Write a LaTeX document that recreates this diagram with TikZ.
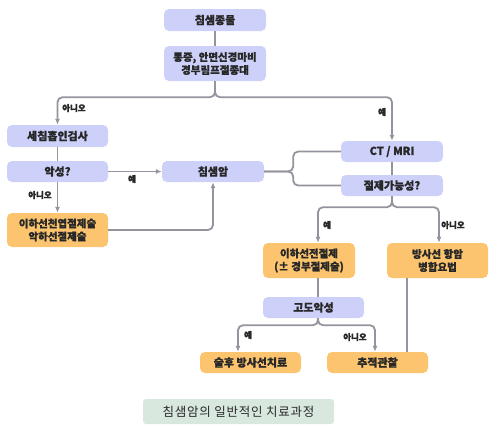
\documentclass[tikz,border=0pt]{standalone}
\usepackage{fontspec}
\setmainfont{Noto Sans CJK KR}[BoldFeatures={FakeBold=0.8}]
\usetikzlibrary{arrows.meta}
\definecolor{bluebox}{RGB}{205,208,248}
\definecolor{orangebox}{RGB}{252,196,110}
\definecolor{capbox}{RGB}{216,232,222}
\definecolor{lineg}{RGB}{148,148,158}
\definecolor{txt}{RGB}{40,40,40}
\tikzset{
  box/.style={rounded corners=5pt, inner sep=0pt, align=center, text=txt,
    font=\fontsize{11}{13}\selectfont\bfseries},
  two/.style={font=\fontsize{10.5}{13}\selectfont\bfseries},
  bbox/.style={box, fill=bluebox},
  obox/.style={box, fill=orangebox},
  ln/.style={draw=lineg, line width=1.8pt, rounded corners=5pt},
  arr/.style={ln, -{Latex[length=6pt,width=5pt]}},
  lab/.style={text=txt, font=\fontsize{8.5}{10}\selectfont\bfseries, inner sep=0pt}
}
\begin{document}
\begin{tikzpicture}[x=1pt,y=-1pt]
\useasboundingbox (0,0) rectangle (496,429);
% nodes
\node[bbox, minimum width=102pt, minimum height=22pt] (top) at (215,20) {침샘종물};
\node[bbox, two, minimum width=102pt, minimum height=35pt] (pain) at (215,63.5) {통증, 안면신경마비\\경부림프절종대};
\node[bbox, minimum width=101pt, minimum height=22pt] (fna) at (57.5,136) {세침흡인검사};
\node[bbox, minimum width=101pt, minimum height=21pt] (mal) at (57.5,171.5) {악성?};
\node[obox, two, minimum width=101pt, minimum height=34pt] (sup) at (57.5,230) {이하선천엽절제술\\악하선절제술};
\node[bbox, minimum width=102pt, minimum height=21pt] (can) at (213,171.5) {침샘암};
\node[bbox, minimum width=102pt, minimum height=21pt] (ct) at (392,151.5) {CT / MRI};
\node[bbox, minimum width=102pt, minimum height=21pt] (res) at (392,185.5) {절제가능성?};
\node[obox, two, minimum width=92pt, minimum height=35pt] (tot) at (309,260.5) {이하선전절제\\(± 경부절제술)};
\node[obox, two, minimum width=101pt, minimum height=35pt] (rad) at (437.5,260.5) {방사선 항암\\병합요법};
\node[bbox, minimum width=101pt, minimum height=21pt] (gra) at (313.5,307.5) {고도악성};
\node[obox, minimum width=101pt, minimum height=21pt] (prt) at (250.5,362.5) {술후 방사선치료};
\node[obox, minimum width=101pt, minimum height=21pt] (fol) at (377.5,362.5) {추적관찰};
\node[box, fill=capbox, rounded corners=3pt, minimum width=191pt, minimum height=25pt,
  font=\fontsize{12.5}{14}\selectfont\addfontfeatures{LetterSpace=6}] (cap) at (238.5,411.5) {침샘암의 일반적인 치료과정};
% x positions for off-centre connectors
\coordinate (xa) at (318,0);
\coordinate (xb) at (439,0);
\coordinate (xc) at (238,0);
\coordinate (xd) at (375,0);
\coordinate (xe) at (407,0);
% connectors
\draw[ln] (top) -- (pain);
\draw[arr] (pain.south) -- ++(0,16) -| (fna.north);
\draw[arr] (pain.south) -- ++(0,16) -| (ct.north);
\draw[ln] (fna) -- (mal);
\draw[arr] (mal.east) -- (can.west);
\draw[arr] (mal.south) -- (sup.north);
\draw[arr] (sup.east) -| (can.south);
\draw[ln] (can.east) -- ++(29,0) |- (ct.west);
\draw[ln] (can.east) -- ++(29,0) |- (res.west);
\draw[ln] (ct) -- (res);
\draw[arr] (res.south) -- ++(0,11) -| (tot.north -| xa);
\draw[arr] (res.south) -- ++(0,11) -| (rad.north -| xb);
\draw[ln] (tot.south -| xa) -- (gra.north -| xa);
\draw[arr] (gra.south -| xa) -- ++(0,7) -| (prt.north -| xc);
\draw[arr] (gra.south -| xa) -- ++(0,7) -| (fol.north -| xd);
\draw[ln] (rad.south -| xe) -- (fol.north -| xe);
% labels
\node[lab] (l1) at (74,108) {아니오};
\node[lab] (l2) at (382,112) {예};
\node[lab] (l3) at (132,179) {예};
\node[lab] (l4) at (40,195) {아니오};
\node[lab] (l5) at (327,225) {예};
\node[lab] (l6) at (453,225) {아니오};
\node[lab] (l7) at (248,335) {예};
\node[lab] (l8) at (355,337) {아니오};
\end{tikzpicture}
\end{document}
